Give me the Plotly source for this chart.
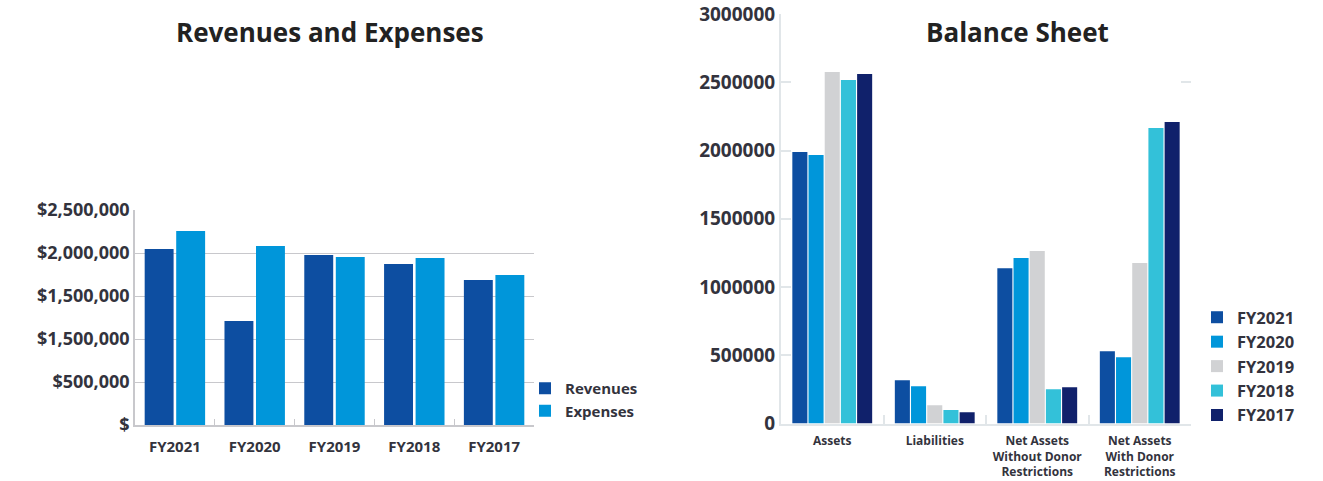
import plotly.graph_objects as go

# ---------- data ----------
years = ["FY2021", "FY2020", "FY2019", "FY2018", "FY2017"]
revenues = [2047000, 1209000, 1977000, 1872000, 1686000]
expenses = [2256000, 2081000, 1953000, 1942000, 1744000]

left_tickvals = [0, 500000, 1000000, 1500000, 2000000, 2500000]
left_ticktext = ["$", "$500,000", "$1,500,000", "$1,500,000", "$2,000,000", "$2,500,000"]

bs_categories = ["Assets", "Liabilities",
                 "Net Assets<br>Without Donor<br>Restrictions",
                 "Net Assets<br>With Donor<br>Restrictions"]
bs_fy2021 = [1989000, 317000, 1138000, 530000]
bs_fy2020 = [1967000, 273000, 1212000, 486000]
bs_fy2019 = [2575000, 134000, 1263000, 1175000]
bs_fy2018 = [2516000, 98000, 251000, 2164000]
bs_fy2017 = [2560000, 83000, 266000, 2208000]
right_tickvals = [0, 500000, 1000000, 1500000, 2000000, 2500000, 3000000]

# ---------- style ----------
FONT = "Open Sans"
C_REV = "#0d4ea1"
C_EXP = "#0096da"
BS_COLORS = ["#0d4ea1", "#0096da", "#d1d2d4", "#33c1d9", "#10216b"]
TXT = "#33333d"

W, H = 1323, 481
def px_x(v):
    return v / W
def px_y(v):
    return 1 - v / H

fig = go.Figure()

fig.add_trace(go.Bar(x=years, y=revenues, name="Revenues", marker_color=C_REV,
                     marker_line_width=0, width=0.3625, xaxis="x", yaxis="y",
                     legend="legend"))
fig.add_trace(go.Bar(x=years, y=expenses, name="Expenses", marker_color=C_EXP,
                     marker_line_width=0, width=0.3625, xaxis="x", yaxis="y",
                     legend="legend"))

for name, vals, col in zip(years, [bs_fy2021, bs_fy2020, bs_fy2019, bs_fy2018, bs_fy2017], BS_COLORS):
    fig.add_trace(go.Bar(x=bs_categories, y=vals, name=name, marker_color=col,
                         marker_line_width=0, xaxis="x2", yaxis="y2",
                         legend="legend2"))

# invisible helper trace to carry the right-side stub ticks
fig.add_trace(go.Bar(x=bs_categories, y=[None] * 4, xaxis="x2", yaxis="y3",
                     showlegend=False, hoverinfo="skip"))

fig.update_layout(
    width=W, height=H,
    margin=dict(l=0, r=0, t=0, b=0, autoexpand=False),
    paper_bgcolor="white", plot_bgcolor="white",
    font=dict(family=FONT, color=TXT),
    barmode="group", bargap=0.21, bargroupgap=0.07,
    xaxis=dict(domain=[px_x(135), px_x(534)], anchor="y", automargin=False,
               tickangle=0, ticklabelstandoff=7,
               showline=True, linecolor="#c8c8cc", linewidth=2,
               ticks="inside", tickson="boundaries", ticklen=6, tickcolor="#c8c8cc",
               showgrid=False,
               tickfont=dict(family=FONT, size=15, color=TXT, weight="bold")),
    yaxis=dict(domain=[px_y(425), px_y(210)], anchor="x", range=[0, 2500000],
               automargin=False,
               tickvals=left_tickvals, ticktext=left_ticktext,
               showline=True, linecolor="#c8c8cc", linewidth=1.5,
               showgrid=True, gridcolor="#c8c8cc", gridwidth=1.2,
               zeroline=False, ticks="",
               tickfont=dict(family=FONT, size=18, color=TXT, weight="bold")),
    xaxis2=dict(domain=[px_x(781), px_x(1191)], anchor="y2", automargin=False,
                tickangle=0, ticklabelstandoff=5,
                showline=True, linecolor="#e1e6e9", linewidth=2,
                ticks="inside", tickson="boundaries", ticklen=9, tickcolor="#e1e6e9",
                tickwidth=2, showgrid=False,
                tickfont=dict(family=FONT, size=12, color=TXT, weight="bold")),
    yaxis2=dict(domain=[px_y(423.5), px_y(14)], anchor="x2", range=[0, 3000000],
                automargin=False,
                tickvals=right_tickvals, tickformat="d",
                showline=True, linecolor="#e1e6e9", linewidth=2,
                showgrid=False, zeroline=False,
                ticks="inside", ticklen=10, tickcolor="#e1e6e9", tickwidth=2,
                tickfont=dict(family=FONT, size=19, color=TXT, weight="bold")),
    yaxis3=dict(overlaying="y2", side="right", anchor="x2", range=[0, 3000000],
                automargin=False,
                tickvals=[2500000, 3000000], showticklabels=False,
                ticks="inside", ticklen=10, tickcolor="#e1e6e9", tickwidth=2,
                showline=False, showgrid=False, zeroline=False),
    legend=dict(x=px_x(525), y=px_y(372), xanchor="left", yanchor="top",
                bgcolor="rgba(0,0,0,0)", borderwidth=0, traceorder="normal",
                font=dict(family=FONT, size=15, color=TXT, weight="bold"),
                tracegroupgap=0, itemclick=False),
    legend2=dict(x=px_x(1197), y=px_y(300), xanchor="left", yanchor="top",
                 bgcolor="rgba(0,0,0,0)", borderwidth=0, traceorder="normal",
                 font=dict(family=FONT, size=16.5, color=TXT, weight="bold"),
                 tracegroupgap=0, itemclick=False),
    annotations=[
        dict(text="Revenues and Expenses", x=px_x(330), y=px_y(32), xref="paper", yref="paper",
             xanchor="center", yanchor="middle", showarrow=False,
             font=dict(family=FONT, size=26, color="#222222", weight="bold")),
        dict(text="Balance Sheet", x=px_x(1017), y=px_y(32), xref="paper", yref="paper",
             xanchor="center", yanchor="middle", showarrow=False,
             font=dict(family=FONT, size=26, color="#222222", weight="bold")),
    ],
)

fig.write_html("out.html", config={"displayModeBar": False},
               post_script="document.body.style.margin='0';")
